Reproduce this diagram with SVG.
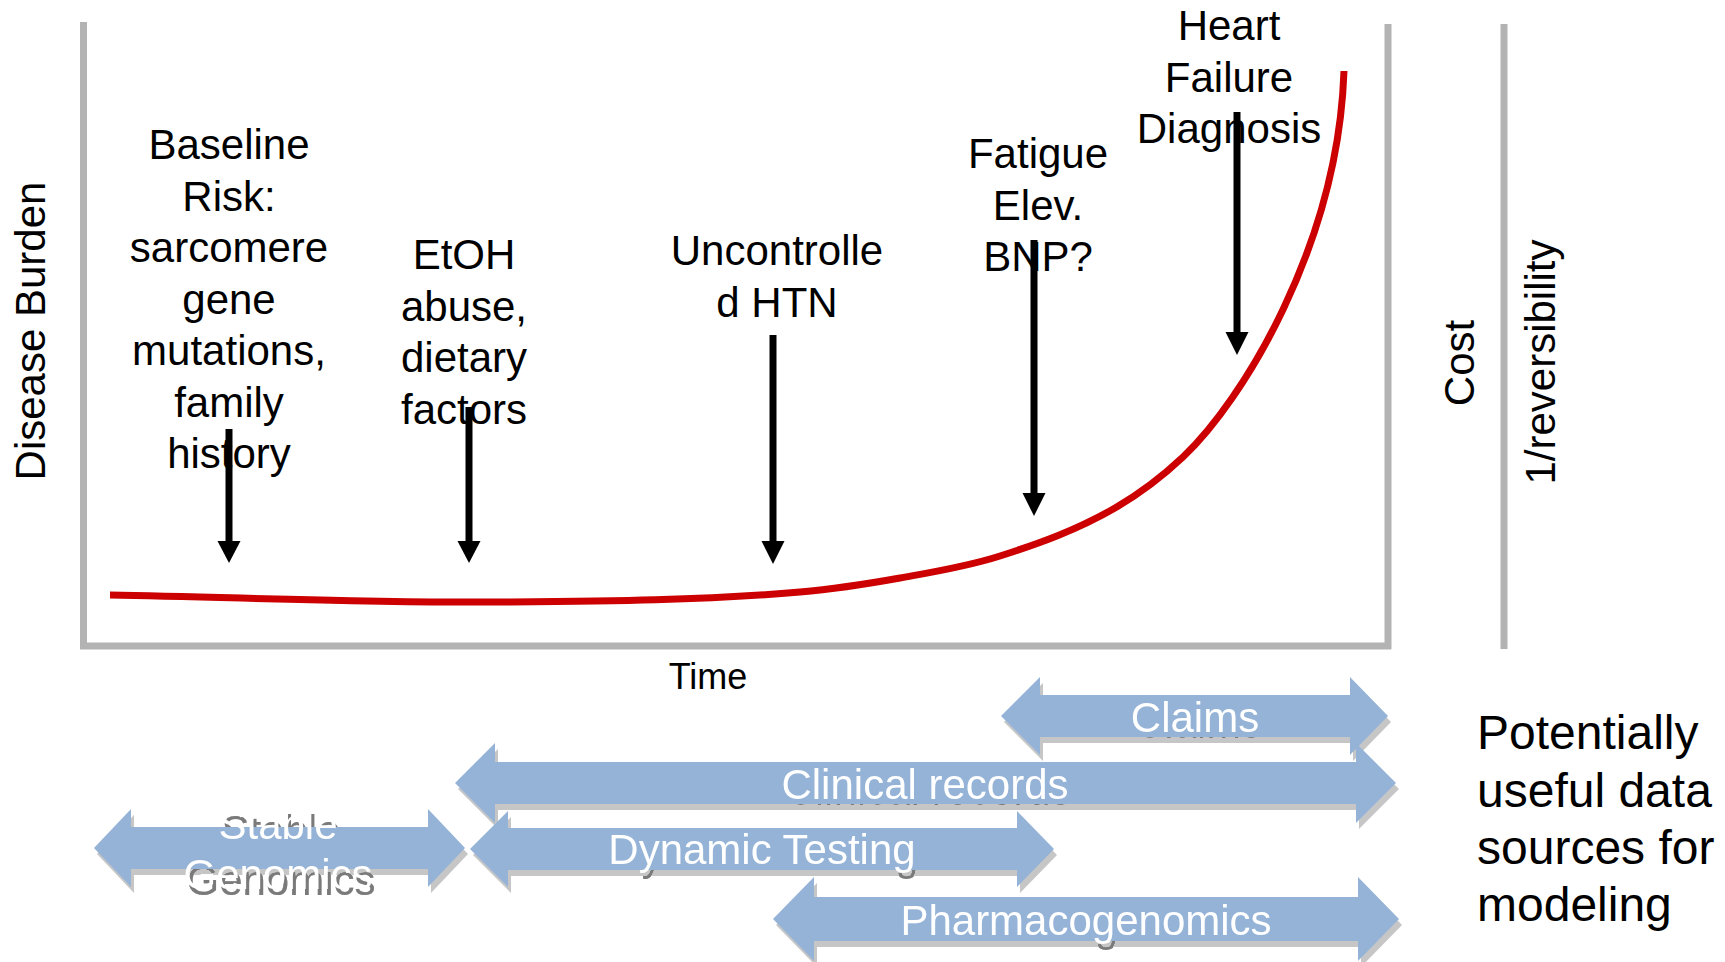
<svg xmlns="http://www.w3.org/2000/svg" width="1725" height="962" viewBox="0 0 1725 962">
<defs>
<style>
.t{font-family:"Liberation Sans",Arial,sans-serif;font-size:42px;fill:#000;text-anchor:middle}
.src{font-family:"Liberation Sans",Arial,sans-serif;font-size:48px;fill:#000}
.axis{stroke:#b3b3b3;stroke-width:7;fill:none}
.ptr{stroke:#000;stroke-width:7;fill:none}
.head{fill:#000}
.band{fill:#95b3d7}
.wt{font-family:"Liberation Sans",Arial,sans-serif;font-size:42px;fill:#fff;text-anchor:middle}
.sh{filter:url(#shadow)}
</style>
<filter id="shadow" x="-6%" y="-20%" width="114%" height="150%" color-interpolation-filters="sRGB">
<feOffset in="SourceAlpha" dx="3" dy="6" result="oa"/>
<feFlood flood-color="#c6c6c6" result="f1"/>
<feComposite in="f1" in2="oa" operator="in" result="shapeShadow"/>
<feColorMatrix in="SourceGraphic" type="matrix" values="0 0 0 0 0  0 0 0 0 0  0 0 0 0 0  5 0 0 0 -4" result="tm"/>
<feComposite in="tm" in2="SourceAlpha" operator="in" result="tm2"/>
<feOffset in="tm2" dx="3" dy="6" result="to"/>
<feFlood flood-color="#7a7a7a" result="f2"/>
<feComposite in="f2" in2="to" operator="in" result="textShadow"/>
<feMerge>
<feMergeNode in="shapeShadow"/>
<feMergeNode in="textShadow"/>
<feMergeNode in="SourceGraphic"/>
</feMerge>
</filter>
</defs>
<rect width="1725" height="962" fill="#fff"/>

<g id="axes">
<line class="axis" x1="83.5" y1="22" x2="83.5" y2="649"/>
<line class="axis" x1="80" y1="646" x2="1391" y2="646"/>
<line class="axis" x1="1388" y1="24" x2="1388" y2="649"/>
<line class="axis" x1="1504" y1="24" x2="1504" y2="649"/>
</g>

<g id="curve">
<path d="M110,595 C240,597.3 370,603 500,602 C600,601.2 700,600.7 800,592 C833.3,589.1 866.7,584 900,578 C933.3,572 966.7,566.7 1000,556 C1038.3,543.7 1076.7,530.2 1115,508 C1137.7,494.8 1160.3,478.4 1183,457 C1243,400.3 1338,245 1344,71" fill="none" stroke="#cc0000" stroke-width="7"/>
</g>

<g id="axis-labels">
<text class="t" transform="translate(45,331) rotate(-90)">Disease Burden</text>
<text class="t" x="708" y="689" style="font-size:36px">Time</text>
<text class="t" transform="translate(1474,363) rotate(-90)">Cost</text>
<text class="t" transform="translate(1555,362) rotate(-90)">1/reversibility</text>
</g>

<g id="node-baseline">
<text class="t" x="229" y="159">Baseline</text>
<text class="t" x="229" y="210.5">Risk:</text>
<text class="t" x="229" y="262">sarcomere</text>
<text class="t" x="229" y="313.5">gene</text>
<text class="t" x="229" y="365">mutations,</text>
<text class="t" x="229" y="416.5">family</text>
<text class="t" x="229" y="468">history</text>
</g>
<g id="node-etoh">
<text class="t" x="464" y="269">EtOH</text>
<text class="t" x="464" y="320.5">abuse,</text>
<text class="t" x="464" y="372">dietary</text>
<text class="t" x="464" y="423.5">factors</text>
</g>
<g id="node-htn">
<text class="t" x="777" y="265">Uncontrolle</text>
<text class="t" x="777" y="316.5">d HTN</text>
</g>
<g id="node-fatigue">
<text class="t" x="1038" y="168">Fatigue</text>
<text class="t" x="1038" y="219.5">Elev.</text>
<text class="t" x="1038" y="271">BNP?</text>
</g>
<g id="node-hf">
<text class="t" x="1229" y="40">Heart</text>
<text class="t" x="1229" y="91.5">Failure</text>
<text class="t" x="1229" y="143">Diagnosis</text>
</g>

<g id="connectors">
<line class="ptr" x1="229" y1="429" x2="229" y2="545"/>
<polygon class="head" points="217.5,541 240.5,541 229,563"/>
<line class="ptr" x1="469" y1="407" x2="469" y2="545"/>
<polygon class="head" points="457.5,541 480.5,541 469,563"/>
<line class="ptr" x1="773" y1="335" x2="773" y2="545"/>
<polygon class="head" points="761.5,541 784.5,541 773,564"/>
<line class="ptr" x1="1034" y1="240" x2="1034" y2="497"/>
<polygon class="head" points="1022.5,493 1045.5,493 1034,516"/>
<line class="ptr" x1="1237" y1="112" x2="1237" y2="336"/>
<polygon class="head" points="1225.5,332 1248.5,332 1237,355"/>
</g>

<g id="node-claims" class="sh">
<polygon class="band" points="1001,716 1040,677 1040,695 1350,695 1350,677 1388,716 1350,755 1350,737 1040,737 1040,755"/>
<text class="wt" x="1195" y="732">Claims</text>
</g>

<g id="node-clinical" class="sh">
<polygon class="band" points="455,783 495,743 495,762 1356,762 1356,743 1396,783 1356,823 1356,804 495,804 495,823"/>
<text class="wt" x="925" y="799">Clinical records</text>
</g>

<g id="node-stable" class="sh">
<polygon class="band" points="94,848 131,809 131,827 428,827 428,809 465,848 428,887 428,869 131,869 131,887"/>
<text class="wt" x="278" y="839">Stable</text>
<text class="wt" x="278" y="889">Genomics</text>
</g>

<g id="node-dynamic" class="sh">
<polygon class="band" points="470,849 508,811 508,828 1017,828 1017,811 1054,849 1017,887 1017,870 508,870 508,887"/>
<text class="wt" x="762" y="864">Dynamic Testing</text>
</g>

<g id="node-pharma" class="sh">
<polygon class="band" points="773,919 814,877 814,897 1358,897 1358,877 1399,919 1358,961 1358,941 814,941 814,961"/>
<text class="wt" x="1086" y="935">Pharmacogenomics</text>
</g>

<g id="node-sources">
<text class="src" x="1477" y="749">Potentially</text>
<text class="src" x="1477" y="807">useful data</text>
<text class="src" x="1477" y="864">sources for</text>
<text class="src" x="1477" y="921">modeling</text>
</g>
</svg>
